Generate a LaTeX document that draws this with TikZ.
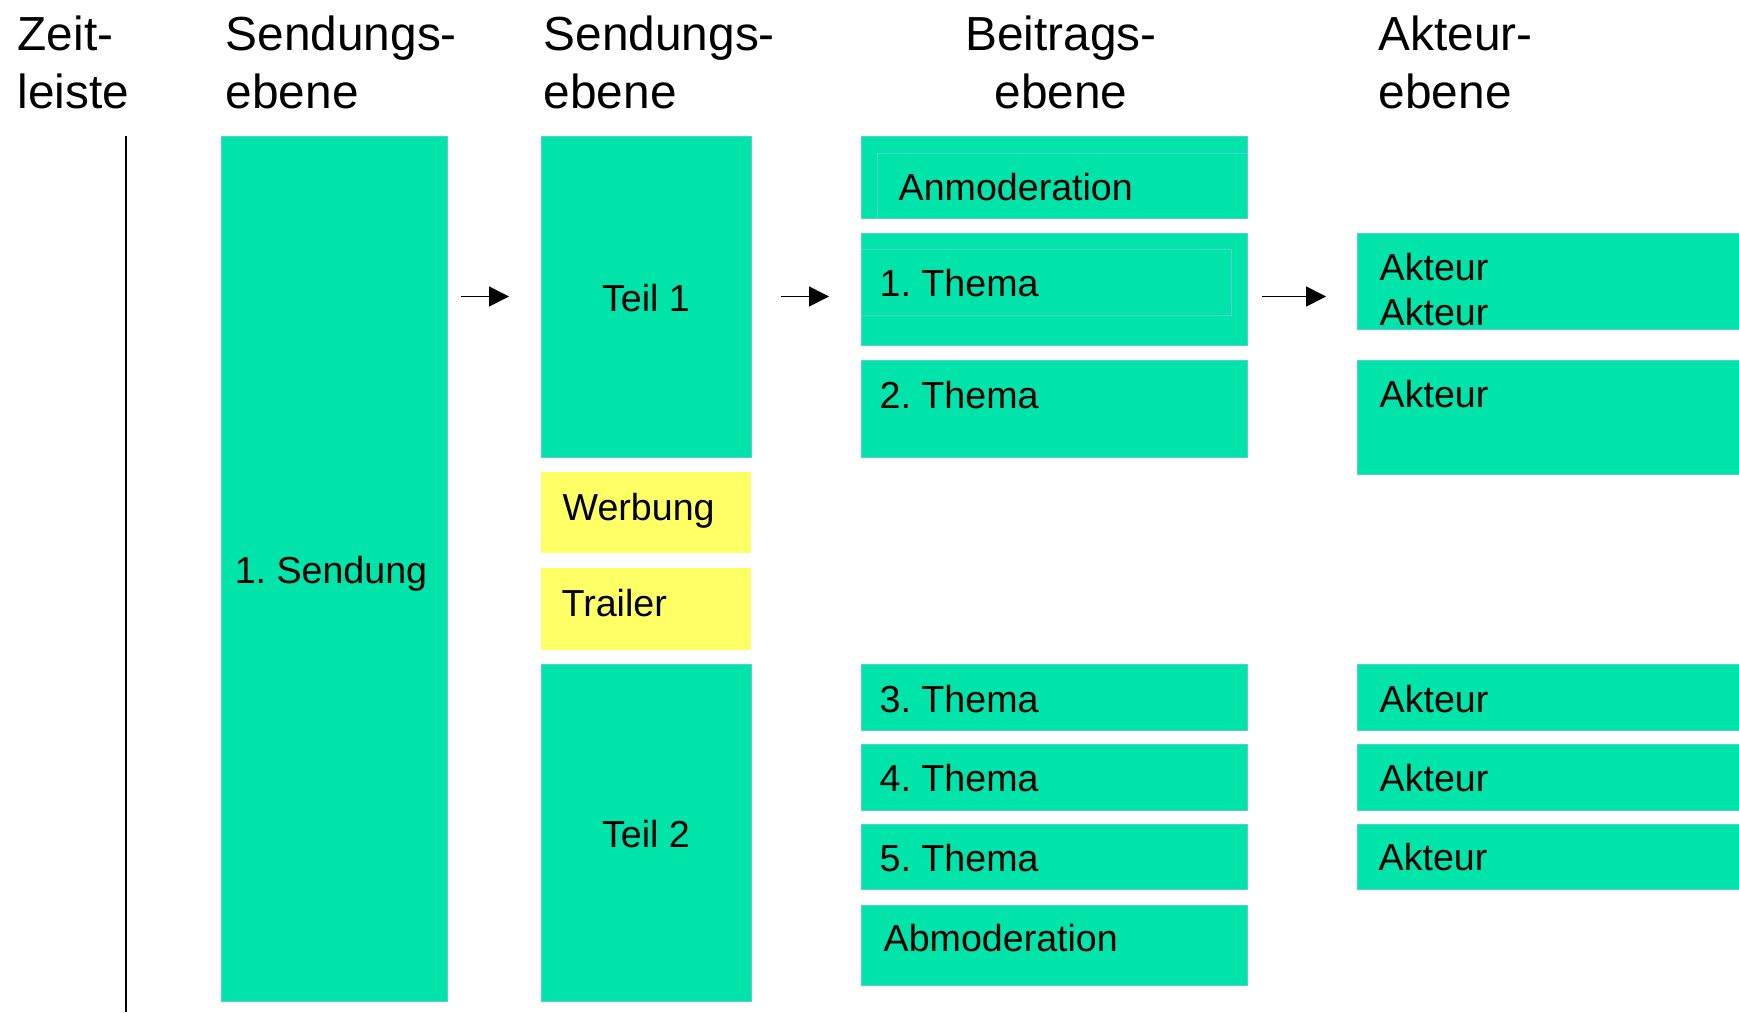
\documentclass[tikz,border=0pt]{standalone}
\usepackage{fontspec}
\setmainfont{Liberation Sans}
\usetikzlibrary{arrows.meta}
\definecolor{sendGreen}{RGB}{0,228,170}
\definecolor{frameCyan}{RGB}{90,205,215}
\definecolor{adYellow}{RGB}{255,255,102}
\newcommand{\bodyFont}{\fontsize{10.7pt}{12.8pt}\selectfont\frenchspacing}
\newcommand{\headFont}{\fontsize{13.6pt}{16.5pt}\selectfont}

\begin{document}
\begin{tikzpicture}
[x=0.1mm,y=-0.1mm,
  boxDecorate/.style={shape=rectangle,inner sep=0pt,outer sep=0pt,fill=sendGreen,draw=frameCyan,line width=0.1mm},%
  adDecorate/.style={boxDecorate,fill=adYellow,draw=none},%
  frameDecorate/.style={draw=frameCyan,line width=0.1mm},%
  textDecorate/.style={inner sep=0pt,font=\bodyFont,anchor=base west},%
  headDecorate/.style={inner sep=0pt,font=\headFont,align=left,anchor=north west},%
  lineDecorate/.style={-{Triangle[length=2mm,width=2mm]},line width=0.16mm}]
\useasboundingbox (0,0) rectangle (1739,1012);
%% column heads
\node (zeitHead) at (17,15) [headDecorate] {Zeit-\\leiste};
\node (sendHead) at (225,15) [headDecorate] {Sendungs-\\ebene};
\node (teilHead) at (543,15) [headDecorate] {Sendungs-\\ebene};
\node (beitragHead) at (1061,15) [headDecorate,align=center,anchor=north] {Beitrags-\\ebene};
\node (akteurHead) at (1378,15) [headDecorate] {Akteur-\\ebene};
%% time line
\coordinate (zeitTop) at (126,136);
\coordinate (zeitEnd) at (126,1012);
\draw[line width=0.25mm] (zeitTop) -- (zeitEnd);
%% boxes
\node (sendung) at (334,568.5) [boxDecorate,minimum width=22.6mm,minimum height=86.5mm] {};
\node (teil1) at (646,296.5) [boxDecorate,minimum width=21mm,minimum height=32.1mm] {};
\node (werbung) at (646,512.5) [adDecorate,minimum width=21mm,minimum height=8.1mm] {};
\node (trailer) at (646,609) [adDecorate,minimum width=21mm,minimum height=8.2mm] {};
\node (teil2) at (646,832.5) [boxDecorate,minimum width=21mm,minimum height=33.7mm] {};
\node (anmod) at (1054,177) [boxDecorate,minimum width=38.6mm,minimum height=8.2mm] {};
\node (thema1) at (1054,289) [boxDecorate,minimum width=38.6mm,minimum height=11.2mm] {};
\node (thema2) at (1054,408.5) [boxDecorate,minimum width=38.6mm,minimum height=9.7mm] {};
\node (thema3) at (1054,697) [boxDecorate,minimum width=38.6mm,minimum height=6.6mm] {};
\node (thema4) at (1054,777) [boxDecorate,minimum width=38.6mm,minimum height=6.6mm] {};
\node (thema5) at (1054,856.5) [boxDecorate,minimum width=38.6mm,minimum height=6.5mm] {};
\node (abmod) at (1054,945) [boxDecorate,minimum width=38.6mm,minimum height=8mm] {};
\node (akteur1) at (1549.5,281) [boxDecorate,minimum width=38.5mm,minimum height=9.6mm] {};
\node (akteur2) at (1549.5,417) [boxDecorate,minimum width=38.5mm,minimum height=11.4mm] {};
\node (akteur3) at (1549.5,697) [boxDecorate,minimum width=38.5mm,minimum height=6.6mm] {};
\node (akteur4) at (1549.5,777) [boxDecorate,minimum width=38.5mm,minimum height=6.6mm] {};
\node (akteur5) at (1549.5,856.5) [boxDecorate,minimum width=38.5mm,minimum height=6.5mm] {};
%% thin text frames
\draw[frameDecorate] (877,153) rectangle (1247,218);
\draw[frameDecorate] (861,249) rectangle (1231,315);
%% box texts
\node (sendungText) at (331,583) [textDecorate,anchor=base] {1. Sendung};
\node (teil1Text) at (646,311) [textDecorate,anchor=base] {Teil 1};
\node (teil2Text) at (646,847) [textDecorate,anchor=base] {Teil 2};
\node (werbungText) at (562,520) [textDecorate] {Werbung};
\node (trailerText) at (561,616) [textDecorate] {Trailer};
\node (anmodText) at (898,200) [textDecorate] {Anmoderation};
\node (thema1Text) at (879,296) [textDecorate] {1. Thema};
\node (thema2Text) at (879,408.5) [textDecorate] {2. Thema};
\node (thema3Text) at (879,712.5) [textDecorate] {3. Thema};
\node (thema4Text) at (879,791.5) [textDecorate] {4. Thema};
\node (thema5Text) at (879,871) [textDecorate] {5. Thema};
\node (abmodText) at (883,951.5) [textDecorate] {Abmoderation};
\node (akteur1Text) at (1379,253) [textDecorate,anchor=north west,align=left] {Akteur\\Akteur};
\node (akteur2Text) at (1379,407) [textDecorate] {Akteur};
\node (akteur3Text) at (1379,712.5) [textDecorate] {Akteur};
\node (akteur4Text) at (1379,791.5) [textDecorate] {Akteur};
\node (akteur5Text) at (1378,870.5) [textDecorate] {Akteur};
%% arrows between the levels
\path
(sendung.east |- teil1.west) edge[lineDecorate,shorten <=1.4mm,shorten >=3.2mm] (teil1.west)
(teil1.east) edge[lineDecorate,shorten <=3mm,shorten >=3.2mm] (thema1.west |- teil1.east)
(thema1.east |- teil1.east) edge[lineDecorate,shorten <=1.5mm,shorten >=3.1mm] (akteur1.west |- teil1.east);
\end{tikzpicture}
\end{document}
